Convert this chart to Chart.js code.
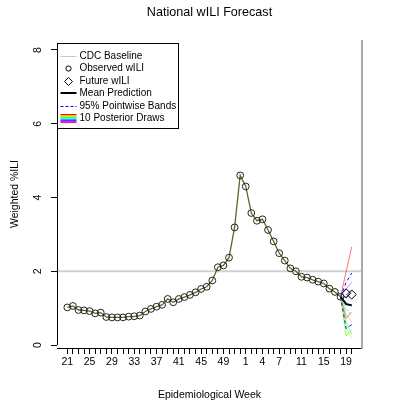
<!DOCTYPE html>
<html>
<head>
<meta charset="utf-8">
<script src="https://cdn.jsdelivr.net/npm/chart.js@4.4.0/dist/chart.umd.min.js"></script>
<style>
  body { margin: 0; background: #fff; }
</style>
</head>
<body>
<canvas id="grafico" width="407" height="407"></canvas>
<script>
// Semanas epidemiologicas de la temporada (21 a 52, luego 1 a 20)
const semanas = [21, 22, 23, 24, 25, 26, 27, 28, 29, 30, 31, 32, 33, 34, 35, 36,
                 37, 38, 39, 40, 41, 42, 43, 44, 45, 46, 47, 48, 49, 50, 51, 52,
                 1, 2, 3, 4, 5, 6, 7, 8, 9, 10, 11, 12, 13, 14, 15, 16, 17, 18, 19, 20];
// etiquetas que R alcanza a dibujar sin encimarse
const etiquetasVisibles = [21, 25, 29, 33, 37, 41, 45, 49, 1, 4, 7, 11, 15, 19];

// wILI observado (semana 21 a semana 18)
const observado = [1.02, 1.06, 0.95, 0.94, 0.92, 0.86, 0.88, 0.76, 0.75, 0.75,
                   0.75, 0.77, 0.78, 0.80, 0.91, 0.98, 1.04, 1.09, 1.25, 1.16,
                   1.25, 1.30, 1.36, 1.43, 1.52, 1.58, 1.75, 2.11, 2.16, 2.37,
                   3.19, 4.60, 4.30, 3.58, 3.37, 3.41, 3.12, 2.81, 2.49, 2.29,
                   2.08, 2.00, 1.85, 1.83, 1.77, 1.72, 1.67, 1.53, 1.44, 1.31];
// wILI futuro (semanas 19 y 20)
const futuro = [1.40, 1.37];

// pronostico: empieza en la ultima semana observada
const prediccionMedia = [1.31, 1.11, 1.08];
const bandaSuperior = [1.31, 1.70, 1.95];
const bandaInferior = [1.31, 0.45, 0.55];
const trayectorias = [
    [1.31, 1.98, 2.66],
    [1.31, 0.85, 0.62],
    [1.31, 0.45, 0.18],
    [1.31, 0.25, 0.42],
    [1.31, 0.62, 0.30],
    [1.31, 0.98, 0.80],
    [1.31, 1.15, 1.05],
    [1.31, 1.30, 1.45],
    [1.31, 1.52, 1.70],
    [1.31, 0.72, 0.90]
];
const coloresTrayectorias = ['rgba(255,0,0,0.55)', 'rgba(255,153,0,0.55)', 'rgba(204,255,0,0.6)',
                             'rgba(51,255,0,0.6)', 'rgba(0,255,102,0.6)', 'rgba(0,255,255,0.6)',
                             'rgba(0,102,255,0.55)', 'rgba(51,0,255,0.55)', 'rgba(204,0,255,0.55)',
                             'rgba(255,0,153,0.55)'];

const lineaBase = 2.0;
const ticksY = [0, 2, 4, 6, 8];
const textosLeyenda = ['CDC Baseline', 'Observed wILI', 'Future wILI', 'Mean Prediction',
                       '95% Pointwise Bands', '10 Posterior Draws'];

Chart.defaults.font.family = '"Liberation Sans", Arial, Helvetica, sans-serif';
Chart.defaults.color = '#000';

// convierte una lista de valores en puntos {x, y} a partir de un indice de semana
function aPuntos(valores, inicio) {
    return valores.map((v, i) => ({ x: inicio + i, y: v }));
}

const inicioPronostico = observado.length - 1;

const datasets = [
    {
        label: 'Observed wILI',
        data: aPuntos(observado, 0),
        borderColor: '#5f6a22',
        borderWidth: 1.3,
        pointStyle: 'circle',
        pointRadius: 3.4,
        pointBorderColor: '#222',
        pointBackgroundColor: 'rgba(0,0,0,0)',
        pointBorderWidth: 1
    },
    {
        label: 'Future wILI',
        data: aPuntos(futuro, observado.length),
        showLine: false,
        pointStyle: 'rectRot',
        pointRadius: 4.6,
        pointBorderColor: '#000',
        pointBackgroundColor: 'rgba(0,0,0,0)',
        pointBorderWidth: 1
    },
    {
        label: 'Mean Prediction',
        data: aPuntos(prediccionMedia, inicioPronostico),
        borderColor: '#000',
        borderWidth: 2,
        pointRadius: 0
    },
    {
        label: 'Upper band',
        data: aPuntos(bandaSuperior, inicioPronostico),
        borderColor: '#0000ff',
        borderWidth: 1,
        borderDash: [3, 3],
        pointRadius: 0
    },
    {
        label: 'Lower band',
        data: aPuntos(bandaInferior, inicioPronostico),
        borderColor: '#0000ff',
        borderWidth: 1,
        borderDash: [3, 3],
        pointRadius: 0
    }
];

for (let i = 0; i < trayectorias.length; i++) {
    datasets.push({
        label: 'Draw ' + (i + 1),
        data: aPuntos(trayectorias[i], inicioPronostico),
        borderColor: coloresTrayectorias[i],
        borderWidth: 1,
        pointRadius: 0
    });
}

// linea base, ejes al estilo R y la leyenda
const decoracion = {
    id: 'decoracion',
    beforeDatasetsDraw(chart) {
        const { ctx, chartArea: a, scales: { y } } = chart;
        const yb = y.getPixelForValue(lineaBase);
        ctx.save();
        ctx.strokeStyle = '#d0d0d0';
        ctx.lineWidth = 2;
        ctx.beginPath();
        ctx.moveTo(a.left, yb);
        ctx.lineTo(a.right, yb);
        ctx.stroke();
        ctx.restore();
    },
    afterDraw(chart) {
        const { ctx, chartArea: a, scales: { y } } = chart;
        ctx.save();
        // eje y solo entre el primer y el ultimo tick
        ctx.strokeStyle = '#000';
        ctx.lineWidth = 1;
        ctx.beginPath();
        ctx.moveTo(a.left + 0.5, y.getPixelForValue(ticksY[0]));
        ctx.lineTo(a.left + 0.5, y.getPixelForValue(ticksY[ticksY.length - 1]));
        ctx.stroke();
        // borde derecho gris
        ctx.strokeStyle = '#a8a8a8';
        ctx.lineWidth = 2;
        ctx.beginPath();
        ctx.moveTo(a.right, a.top);
        ctx.lineTo(a.right, a.bottom + 1);
        ctx.stroke();

        // leyenda
        const lx = a.left + 0.5;
        const ly = a.top + 3.5;
        ctx.fillStyle = '#fff';
        ctx.fillRect(lx, ly, 121, 85);
        ctx.strokeStyle = '#000';
        ctx.lineWidth = 1;
        ctx.strokeRect(lx, ly, 121, 85);

        const x0 = lx + 3, x1 = lx + 19, xc = lx + 11;
        ctx.font = '10px "Liberation Sans", Arial, sans-serif';
        ctx.textBaseline = 'middle';
        ctx.textAlign = 'left';
        for (let k = 0; k < textosLeyenda.length; k++) {
            const fy = Math.round(ly + 12.5 + k * 12.4) + 0.5;
            ctx.fillStyle = '#000';
            ctx.fillText(textosLeyenda[k], lx + 22, fy);
            ctx.setLineDash([]);
            if (k === 0) {
                ctx.strokeStyle = '#c8c8c8';
                ctx.lineWidth = 1;
                ctx.beginPath(); ctx.moveTo(x0, fy); ctx.lineTo(x1, fy); ctx.stroke();
            } else if (k === 1) {
                ctx.strokeStyle = '#000';
                ctx.lineWidth = 1;
                ctx.beginPath(); ctx.arc(xc, fy, 2.6, 0, Math.PI * 2); ctx.stroke();
            } else if (k === 2) {
                ctx.strokeStyle = '#000';
                ctx.lineWidth = 1;
                ctx.beginPath();
                ctx.moveTo(xc, fy - 4); ctx.lineTo(xc + 4, fy);
                ctx.lineTo(xc, fy + 4); ctx.lineTo(xc - 4, fy);
                ctx.closePath(); ctx.stroke();
            } else if (k === 3) {
                ctx.strokeStyle = '#000';
                ctx.lineWidth = 2;
                ctx.beginPath(); ctx.moveTo(x0, fy - 0.5); ctx.lineTo(x1, fy - 0.5); ctx.stroke();
            } else if (k === 4) {
                ctx.strokeStyle = '#0000ff';
                ctx.lineWidth = 1;
                ctx.setLineDash([3, 2]);
                ctx.beginPath(); ctx.moveTo(x0, fy); ctx.lineTo(x1, fy); ctx.stroke();
                ctx.setLineDash([]);
            } else {
                for (let c = 0; c < coloresTrayectorias.length; c++) {
                    const cy = fy - 4 + c * 0.9;
                    ctx.strokeStyle = coloresTrayectorias[c].replace(/0\.\d+\)$/, '1)');
                    ctx.lineWidth = 1;
                    ctx.beginPath(); ctx.moveTo(x0, cy); ctx.lineTo(x1, cy); ctx.stroke();
                }
            }
        }
        ctx.restore();
    }
};

new Chart(document.getElementById('grafico'), {
    type: 'line',
    data: { datasets: datasets },
    options: {
        responsive: false,
        animation: false,
        devicePixelRatio: 1,
        layout: { padding: { left: 0, right: 45, top: 0, bottom: 0 } },
        plugins: {
            legend: { display: false },
            tooltip: { enabled: false },
            title: {
                display: true,
                text: 'National wILI Forecast',
                fullSize: false,
                font: { size: 12.6, weight: 'normal' },
                color: '#000',
                padding: { top: 5, bottom: 19.9 }
            }
        },
        scales: {
            x: {
                type: 'linear',
                min: -1.85,
                max: 52.85,
                afterFit: (scale) => { scale.height = 59; },
                afterBuildTicks: (scale) => {
                    scale.ticks = semanas.map((s, i) => ({ value: i }));
                },
                ticks: {
                    autoSkip: false,
                    maxRotation: 0,
                    minRotation: 0,
                    padding: 2,
                    font: { size: 10.5 },
                    callback: (value) => {
                        const s = semanas[value];
                        return etiquetasVisibles.includes(s) ? String(s) : '';
                    }
                },
                grid: { drawOnChartArea: false, drawTicks: true, tickLength: 6, color: '#000' },
                border: { display: true, color: '#000', width: 1 },
                title: {
                    display: true,
                    text: 'Epidemiological Week',
                    font: { size: 10.5 },
                    padding: { top: 0, bottom: 5.7 }
                }
            },
            y: {
                min: -0.08,
                max: 8.27,
                afterFit: (scale) => { scale.width = 57; },
                afterBuildTicks: (scale) => {
                    scale.ticks = ticksY.map(v => ({ value: v }));
                },
                ticks: {
                    padding: 9.6,
                    minRotation: 90,
                    maxRotation: 90,
                    crossAlign: 'center',
                    font: { size: 10.5 }
                },
                grid: { drawOnChartArea: false, drawTicks: true, tickLength: 6, color: '#000' },
                border: { display: false },
                title: {
                    display: true,
                    text: 'Weighted %ILI',
                    font: { size: 10.5 },
                    padding: { top: 8.7, bottom: 0 }
                }
            }
        }
    },
    plugins: [decoracion]
});
</script>
</body>
</html>
